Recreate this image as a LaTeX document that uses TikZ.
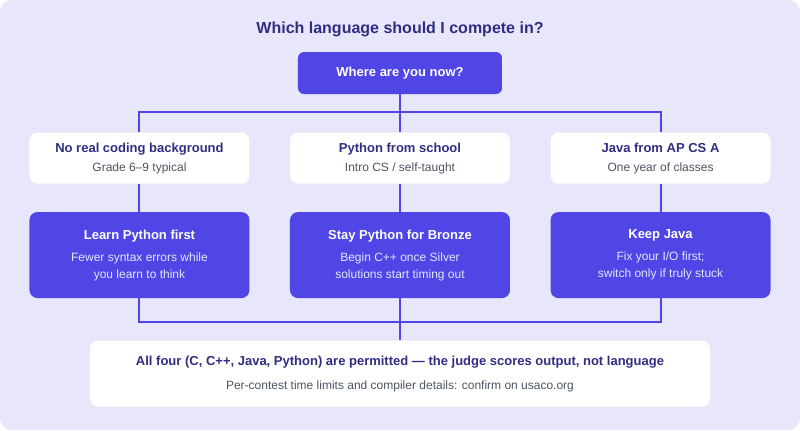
\documentclass[tikz,border=0pt]{standalone}
\usepackage{fontspec}
\setmainfont{Liberation Sans}
\usepackage{xcolor}
\definecolor{myindigo}{HTML}{4F46E5}
\definecolor{mynavy}{HTML}{312E81}
\definecolor{myslate}{HTML}{4B5563}
\definecolor{mylavender}{HTML}{E8E6FA}
\definecolor{mymist}{HTML}{E0E7FF}
\usepackage{tikz}
\usetikzlibrary{
    positioning
}
\newcommand{\sittitle}[1]{\textcolor{mynavy}{\fontsize{9.75}{12}\selectfont\bfseries #1}}
\newcommand{\picktitle}[1]{\textcolor{white}{\fontsize{9.75}{12}\selectfont\bfseries #1}}
\tikzstyle{heading} = [
    text=mynavy,
    font=\fontsize{12}{14}\selectfont\bfseries
]
\tikzstyle{askbox} = [
    rectangle,
    rounded corners=4.5pt,
    minimum width=153pt,
    minimum height=31.5pt,
    inner sep=0pt,
    fill=myindigo,
    text=white,
    font=\fontsize{9.75}{12}\selectfont\bfseries
]
\tikzstyle{situation} = [
    rectangle,
    rounded corners=6pt,
    minimum width=165pt,
    minimum height=38.25pt,
    inner sep=0pt,
    text centered,
    align=center,
    fill=white,
    text=myslate,
    font=\fontsize{9}{12.75}\selectfont
]
\tikzstyle{advice} = [
    rectangle,
    rounded corners=6pt,
    minimum width=165pt,
    minimum height=64.5pt,
    inner sep=0pt,
    text centered,
    align=center,
    fill=myindigo,
    text=mymist,
    font=\fontsize{9}{12.75}\selectfont
]
\tikzstyle{verdict} = [
    rectangle,
    rounded corners=6pt,
    minimum width=465pt,
    minimum height=49.5pt,
    inner sep=0pt,
    text centered,
    align=center,
    fill=white,
    text=myslate,
    font=\fontsize{9}{12.75}\selectfont
]
\tikzstyle{link} = [
    draw=myindigo,
    line width=1.5pt
]

\begin{document}
\begin{tikzpicture}[
	node distance=21.75pt and 30pt
]

% Hintergrund
\fill[white] (-300pt,54.75pt) rectangle (300pt,-267.75pt);
\fill[mylavender, rounded corners=9pt] (-300pt,54.75pt) rectangle (300pt,-267.75pt);

\node (where) [askbox] at (0,0) {Where are you now?};
\node (question) [heading] at ([yshift=16.5pt]where.north)
    {Which language should I compete in?};

\node (school) [situation, below=28.5pt of where]
    {\sittitle{Python from school}\\[1.5pt] Intro CS / self-taught};
\node (nocode) [situation, left=of school]
    {\sittitle{No real coding background}\\[1.5pt] Grade 6--9 typical};
\node (apcs) [situation, right=of school]
    {\sittitle{Java from AP CS A}\\[1.5pt] One year of classes};

\node (bronze) [advice, below=of school, yshift=0.75pt]
    {\picktitle{Stay Python for Bronze}\\[3.75pt] Begin C++ once Silver\\ solutions start timing out};
\node (python) [advice, below=of nocode, yshift=0.75pt]
    {\picktitle{Learn Python first}\\[3.75pt] Fewer syntax errors while\\ you learn to think};
\node (keepjava) [advice, below=of apcs, yshift=0.75pt]
    {\picktitle{Keep Java}\\[3.75pt] Fix your I/O first;\\ switch only if truly stuck};

\node (summary) [verdict, below=31.5pt of bronze]
    {\sittitle{All four (C, C++, Java, Python) are permitted --- the judge scores output, not language}\\[5.25pt]
     Per-contest time limits and compiler details: confirm on usaco.org};

% Verzweigung
\coordinate (fork) at ([yshift=-13.5pt]where.south);
\draw [link] (where) -- (school);
\draw [link] (fork) -| (nocode);
\draw [link] (fork) -| (apcs);

\draw [link] (nocode) -- (python);
\draw [link] (school) -- (bronze);
\draw [link] (apcs) -- (keepjava);

% Zusammenführung
\coordinate (join) at ([yshift=13.5pt]summary.north);
\draw [link] (python) |- (join);
\draw [link] (keepjava) |- (join);
\draw [link] (bronze) -- (summary);

\end{tikzpicture}
\end{document}
